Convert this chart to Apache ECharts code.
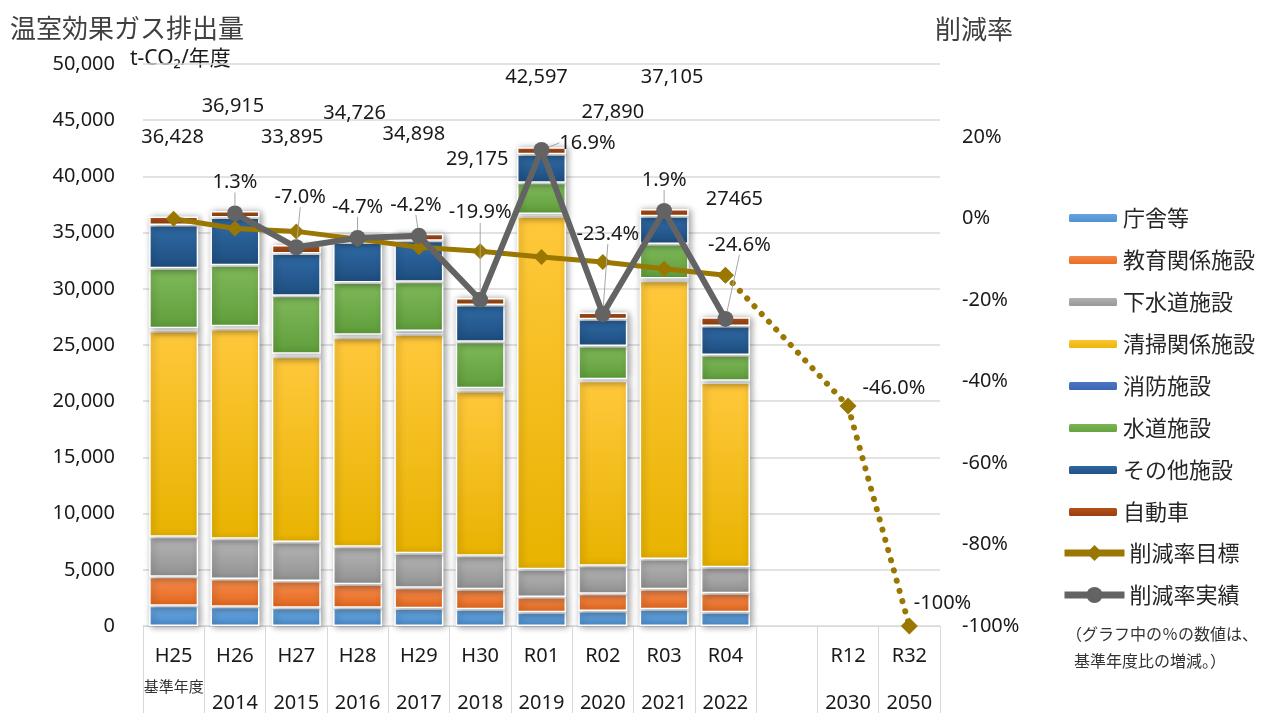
<!DOCTYPE html>
<html><head><meta charset="utf-8">
<script src="https://cdn.jsdelivr.net/npm/echarts@6/dist/echarts.min.js"></script>
<style>html,body{margin:0;padding:0;background:#fff}#c{width:1263px;height:713px}</style>
</head><body><div id="c"></div>
<script>
// ---- data ----
const categories = ['H25','H26','H27','H28','H29','H30','R01','R02','R03','R04','','R12','R32'];
const subLabels  = ['基準年度','2014','2015','2016','2017','2018','2019','2020','2021','2022','','2030','2050'];
const chosha  = [1800,1720,1630,1630,1570,1480,1220,1330,1480,1220,null,null,null];
const kyoiku  = [2580,2460,2370,2080,1840,1780,1360,1540,1780,1690,null,null,null];
const gesui   = [3560,3585,3470,3345,3055,2995,2460,2490,2700,2310,null,null,null];
const seiso   = [18300,18650,16480,18590,19500,14650,31425,16450,24750,16450,null,null,null];
const shobo   = [250,260,270,270,270,250,200,150,200,150,null,null,null];
const suido   = [5330,5430,5160,4655,4390,4130,2760,2940,3065,2280,null,null,null];
const sonota  = [3850,4240,3770,3560,3650,3265,2555,2400,2490,2580,null,null,null];
const jidosha = [758,570,745,596,623,625,617,590,640,785,null,null,null];
const totalLabels = ['36,428','36,915','33,895','34,726','34,898','29,175','42,597','27,890','37,105','27465'];
const targetRate  = [0,-2.4,-3.1,-5.0,-7.0,-8.0,-9.4,-10.6,-12.3,-13.9,null,null,null];
const targetFuture = [null,null,null,null,null,null,null,null,null,-13.9,null,-46.0,-100];
const actualRate  = [null,1.3,-7.0,-4.7,-4.2,-19.9,16.9,-23.4,1.9,-24.6,null,null,null];

// ---- layout (label placement, not data) ----
const totalLabelAnchor = [43500,46250,43500,45600,43750,41500,48800,45700,48800,38000];
const totalLabelDx = [-1,-2,-4,-3,-5,-3,-5,10,8,9];
const actualShift = {2:[4,-19],4:[-3,0],5:[0,-56],6:[46,24],7:[5,-49],9:[14,-43]};
const futureShift = {11:[0,-18],12:[-10,-23]};

const numFont = "'Noto Sans','Noto Sans CJK JP',sans-serif";
const jpFont = "'Noto Sans CJK JP','Noto Sans',sans-serif";
const txt = '#1a1a1a';

function grad(t,b){return {type:'linear',x:0,y:0,x2:0,y2:1,colorStops:[{offset:0,color:t},{offset:1,color:b}]};}
function barSeries(name, data, c1, c2){
  return {name, type:'bar', stack:'total', data, barWidth:'80%',
    itemStyle:{color:grad(c1,c2), borderColor:'#fff', borderWidth:1.5,
      shadowBlur:7, shadowColor:'rgba(0,0,0,0.4)', shadowOffsetX:2, shadowOffsetY:1}};
}
function pct(v){ return (Math.abs(v)>=100 ? v.toFixed(0) : v.toFixed(1)) + '%'; }

const legendText = {fontFamily:jpFont,fontSize:22,lineHeight:22,color:'#262626'};
const chart = echarts.init(document.getElementById('c'));
chart.setOption({
  animation:false,
  textStyle:{fontFamily:numFont},
  grid:{left:143,right:323,top:64,bottom:87},
  legend:[
    {orient:'vertical',left:1062,top:202,itemWidth:50,itemHeight:10,itemGap:20,textStyle:legendText,
     data:['庁舎等','教育関係施設','下水道施設','清掃関係施設','消防施設','水道施設','その他施設','自動車']},
    {orient:'vertical',left:1056,top:537,itemWidth:60,itemHeight:20,itemGap:20,textStyle:legendText,
     lineStyle:{width:7},
     data:['削減率目標','削減率実績']}
  ],
  xAxis:{type:'category',data:categories,
    axisLine:{lineStyle:{color:'#d9d9d9',width:1}},
    axisTick:{show:true,interval:0,length:87,lineStyle:{color:'#d9d9d9'}},
    axisLabel:{interval:0,margin:10,
      formatter:function(v,i){ if(!v) return ''; const s=subLabels[i]; return '{a|'+v+'}\n'+(i===0?'{c|'+s+'}':'{y|'+s+'}'); },
      rich:{a:{fontFamily:numFont,fontSize:20,lineHeight:40,color:txt},
            y:{fontFamily:numFont,fontSize:20,lineHeight:54,color:txt},
            c:{fontFamily:jpFont,fontSize:15,lineHeight:20,color:'#333'}}}},
  yAxis:[
    {type:'value',min:0,max:50000,interval:5000,
     axisLabel:{margin:28,fontSize:20,color:txt,fontFamily:numFont,formatter:v=>v.toLocaleString('en-US')},
     splitLine:{lineStyle:{color:'#d9d9d9',width:1.5}},axisLine:{show:false},axisTick:{show:false}},
    {type:'value',min:-100,max:38,interval:20,position:'right',
     axisLabel:{margin:22,fontSize:20,color:txt,fontFamily:numFont,showMaxLabel:false,formatter:v=>v+'%'},
     splitLine:{show:false},axisLine:{show:false},axisTick:{show:false}}
  ],
  graphic:[
    {type:'text',left:10,top:15,style:{text:'温室効果ガス排出量',font:"26px 'Noto Sans CJK JP'",fill:'#404040'}},
    {type:'text',left:935,top:16,style:{text:'削減率',font:"26px 'Noto Sans CJK JP'",fill:'#404040'}},
    {type:'text',left:130,top:49,style:{text:'t-CO₂/年度',font:"21px 'Noto Sans','Noto Sans CJK JP'",fill:txt}},
    {type:'text',left:1066,top:626,style:{text:'（グラフ中の％の数値は、',font:"16px 'Noto Sans CJK JP'",fill:'#333'}},
    {type:'text',left:1074,top:653,style:{text:'基準年度比の増減。）',font:"16px 'Noto Sans CJK JP'",fill:'#333'}}
  ],
  series:[
    barSeries('庁舎等',chosha,'#6aa8e0','#4b8dcd'),
    barSeries('教育関係施設',kyoiku,'#f68c4e','#e4681d'),
    barSeries('下水道施設',gesui,'#b5b5b5','#929292'),
    barSeries('清掃関係施設',seiso,'#ffc83c','#e8b300'),
    barSeries('消防施設',shobo,'#4d7bcb','#3963ae'),
    barSeries('水道施設',suido,'#80ba5b','#5f9d3a'),
    barSeries('その他施設',sonota,'#306ba6','#1e4e80'),
    barSeries('自動車',jidosha,'#b6541b','#923e0c'),
    {name:'削減率目標',type:'line',yAxisIndex:1,data:targetRate,
     symbol:'diamond',symbolSize:16,lineStyle:{color:'#9a7700',width:5},itemStyle:{color:'#9a7700'},z:3},
    {name:'削減率目標',type:'line',yAxisIndex:1,data:targetFuture,connectNulls:true,
     symbol:'diamond',symbolSize:17,lineStyle:{color:'#9a7700',width:6,type:[0.1,10.5],cap:'round'},itemStyle:{color:'#9a7700'},z:3,
     label:{show:true,fontSize:20,color:txt,fontFamily:numFont,
       formatter:p=>(p.dataIndex>=11?pct(p.value):''),position:'right',distance:6},
     labelLayout:function(p){ const m=futureShift[p.dataIndex]; return m?{dx:m[0],dy:m[1]}:{}; }},
    {name:'削減率実績',type:'line',yAxisIndex:1,data:actualRate,
     symbol:'circle',symbolSize:16,lineStyle:{color:'#636363',width:6},itemStyle:{color:'#636363'},z:4,
     label:{show:true,position:'top',distance:13,fontSize:20,color:txt,fontFamily:numFont,formatter:p=>pct(p.value)},
     labelLine:{show:true,lineStyle:{color:'#a6a6a6',width:1}},
     labelLayout:function(p){ const m=actualShift[p.dataIndex]; return m?{dx:m[0],dy:m[1]}:{}; }},
    {name:'合計',type:'scatter',data:totalLabelAnchor.map((v,i)=>({value:v,label:{offset:[totalLabelDx[i],0]}})),
     symbolSize:1,itemStyle:{color:'transparent',opacity:1},silent:true,z:5,
     label:{show:true,position:'inside',fontSize:20,color:txt,fontFamily:numFont,formatter:p=>totalLabels[p.dataIndex]}}
  ]
});
</script></body></html>
